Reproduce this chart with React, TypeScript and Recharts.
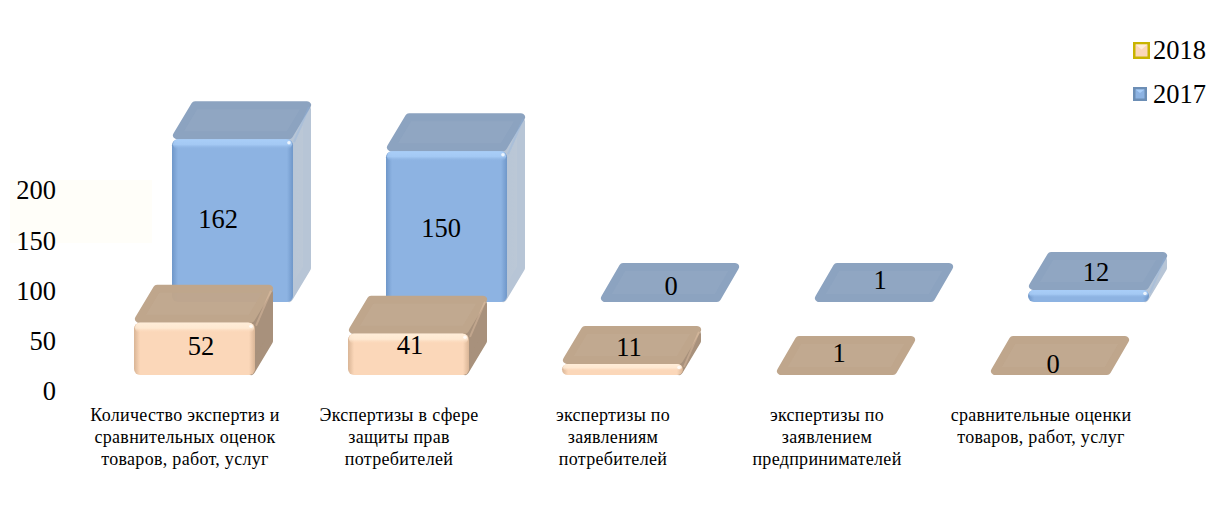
import { BarChart, Bar, XAxis, YAxis, Legend, LabelList } from "recharts";

const categories = [
  "Количество экспертиз и\nсравнительных оценок\nтоваров, работ, услуг",
  "Экспертизы в сфере\nзащиты прав\nпотребителей",
  "экспертизы по\nзаявлениям\nпотребителей",
  "экспертизы по\nзаявлением\nпредпринимателей",
  "сравнительные оценки\nтоваров, работ, услуг",
];
const values2018 = [52, 41, 11, 1, 0];
const values2017 = [162, 150, 0, 1, 12];
const yTicks = [0, 50, 100, 150, 200];

// hand placed value labels, measured from the left/bottom of each front face
const labelLeft2018 = [67, 62, 67, 63, 63];
const labelRise2018 = [29, 30, 28, 22, 11];
const labelLeft2017 = [46, 55, 71, 66, 68];
const labelRise2017 = [83, 74, 16, 22, 30];

const data = categories.map((name, i) => ({
  name,
  y2018: values2018[i],
  y2017: values2017[i],
}));

const FONT = '"Liberation Serif", "Times New Roman", serif';
const BAR_WIDTH = 121;
const DEPTH_X = 18;
const DEPTH_Y = 38;
const ROUND = 8;

const palette2018 = {
  id: "a",
  front: "#FBD7B9",
  edge: "#D9B596",
  light: "#FFEDD8",
  top: "#BFA68C",
  side: "#A8917B",
  sideFar: "#A8917B",
};
const palette2017 = {
  id: "b",
  front: "#8DB3E2",
  edge: "#6F97C9",
  light: "#A9CEF8",
  top: "#8CA3C0",
  side: "#B7C5D6",
  sideFar: "#BCC8D6",
};

// the series sit one behind the other, so each gets its own shift off the axis
const shift2018 = { dx: 9, dy: -17 };
const shift2017 = { dx: 47, dy: -90 };

function Box(props: any) {
  const { x, y, width, height, colors, shift } = props;
  const left = x + shift.dx;
  const bottom = y + height + shift.dy;
  const h = height;
  const top = bottom - h;
  const flat = h < 3;
  const depthY = flat ? 39 : DEPTH_Y;
  const right = left + width;
  const bevel = Math.min(10, h * 0.65);
  const r = ROUND / 2;
  const frontTop = flat ? bottom : top;
  return (
    <g filter="url(#soft)">
      {!flat && (
        <polygon
          points={`${right - 4},${top + 4} ${right + DEPTH_X - r},${top - depthY + ROUND} ${right + DEPTH_X - r},${bottom - depthY + r} ${right - 4},${bottom - r}`}
          fill={`url(#side-${colors.id})`}
          stroke={colors.side}
          strokeWidth={ROUND}
          strokeLinejoin="round"
        />
      )}
      <polygon
        points={`${left + r + 1},${frontTop - r} ${right - r},${frontTop - r} ${right + DEPTH_X - r},${frontTop - depthY + r} ${left + DEPTH_X + r + 1},${frontTop - depthY + r}`}
        fill={colors.top}
        fillOpacity={0.97}
        stroke={colors.top}
        strokeWidth={ROUND}
        strokeLinejoin="round"
      />
      {!flat && (
        <>
          <line
            x1={right + 1}
            y1={top + 3}
            x2={right + DEPTH_X - 2}
            y2={top - depthY + 6}
            stroke={colors.front}
            strokeOpacity={0.3}
            strokeWidth={2}
          />
          <rect x={left} y={top} width={width} height={h} rx={6} fill={`url(#front-${colors.id})`} />
          <rect x={left + 1} y={top} width={width - 2} height={bevel} rx={5} fill={`url(#bevel-${colors.id})`} />
          <circle cx={right - 4} cy={top + 3.5} r={1.8} fill="#fff" fillOpacity={0.8} />
        </>
      )}
    </g>
  );
}

function ValueLabel(props: any) {
  const { x, y, width, height, value, index, shift, lefts, rises, viewBox } = props;
  const box = viewBox ?? { x, y, width, height };
  const left = box.x + shift.dx;
  const bottom = box.y + box.height + shift.dy;
  return (
    <text
      x={left + lefts[index]}
      y={bottom - rises[index]}
      textAnchor="middle"
      dominantBaseline="central"
      fontSize={26.5}
      fontFamily={FONT}
      fill="#000"
    >
      {value}
    </text>
  );
}

function CategoryTick({ x, y, payload }: any) {
  const lines = String(payload.value).split("\n");
  return (
    <text x={x} textAnchor="middle" fontSize={18} letterSpacing={0.3} fontFamily={FONT} fill="#000">
      {lines.map((line, i) => (
        <tspan key={line} x={x} y={y + 29 + i * 22}>
          {line}
        </tspan>
      ))}
    </text>
  );
}

function Marker({ colors, size, border }: any) {
  return (
    <svg width={size} height={size} style={{ display: "block" }}>
      <rect width={size} height={size} fill={border} />
      <rect x={2.5} y={2.5} width={size - 5} height={size - 5} fill={colors.front} />
      <polygon points={`2.5,2.5 ${size - 2.5},2.5 ${size / 2},${size / 2 - 1}`} fill={colors.light} />
    </svg>
  );
}

function LegendBox() {
  return (
    <div style={{ fontFamily: FONT, fontSize: 26.5, color: "#000", lineHeight: "30px" }}>
      <div style={{ position: "absolute", left: 0, top: 0, display: "flex", alignItems: "center" }}>
        <Marker colors={palette2018} size={17} border="#C9B400" />
        <span style={{ marginLeft: 3 }}>2018</span>
      </div>
      <div style={{ position: "absolute", left: 0, top: 44, display: "flex", alignItems: "center" }}>
        <span style={{ width: 17 }}>
          <Marker colors={palette2017} size={14} border="#6C8EB5" />
        </span>
        <span style={{ marginLeft: 3 }}>2017</span>
      </div>
    </div>
  );
}

export default function App() {
  return (
    <div style={{ position: "absolute", left: 0, top: 0, width: 1207, height: 526, background: "#fff" }}>
      <div style={{ position: "absolute", left: 10, top: 180, width: 142, height: 63, background: "#FFFEF9" }} />
      <BarChart
        width={1207}
        height={526}
        data={data}
        margin={{ top: 191, right: 59, bottom: 0, left: 0 }}
        barSize={BAR_WIDTH}
        barGap={-BAR_WIDTH}
        style={{ position: "absolute", left: 0, top: 0 }}
      >
        <defs>
          <filter id="soft" x="-10%" y="-40%" width="120%" height="180%">
            <feGaussianBlur stdDeviation="0.5" />
          </filter>
          {[palette2018, palette2017].map((c) => (
            <g key={c.id}>
              <linearGradient id={`front-${c.id}`} x1="0" y1="0" x2="1" y2="0">
                <stop offset="0" stopColor={c.edge} />
                <stop offset="0.05" stopColor={c.front} />
                <stop offset="0.95" stopColor={c.front} />
                <stop offset="1" stopColor={c.edge} />
              </linearGradient>
              <linearGradient id={`bevel-${c.id}`} x1="0" y1="0" x2="0" y2="1">
                <stop offset="0" stopColor={c.light} />
                <stop offset="0.55" stopColor={c.light} stopOpacity={0.8} />
                <stop offset="1" stopColor={c.front} stopOpacity={0} />
              </linearGradient>
              <linearGradient id={`side-${c.id}`} x1="0" y1="0" x2="1" y2="0">
                <stop offset="0" stopColor={c.side} />
                <stop offset="1" stopColor={c.sideFar} />
              </linearGradient>
            </g>
          ))}
        </defs>
        <XAxis
          dataKey="name"
          height={134}
          interval={0}
          axisLine={false}
          tickLine={false}
          tickSize={0}
          tickMargin={0}
          tick={<CategoryTick />}
        />
        <YAxis
          width={78}
          domain={[0, 200]}
          ticks={yTicks}
          axisLine={false}
          tickLine={false}
          tickSize={0}
          tickMargin={22}
          tick={{ fontSize: 26.5, fontFamily: FONT, fill: "#000", dy: -1 }}
        />
        <Legend
          layout="horizontal"
          verticalAlign="middle"
          align="center"
          content={<LegendBox />}
          wrapperStyle={{ position: "absolute", left: 1133, top: 35, width: 74, height: 80 }}
        />
        <Bar
          dataKey="y2017"
          name="2017"
          isAnimationActive={false}
          shape={(p: any) => <Box {...p} colors={palette2017} shift={shift2017} />}
        >
          <LabelList
            dataKey="y2017"
            content={(p: any) => (
              <ValueLabel {...p} shift={shift2017} lefts={labelLeft2017} rises={labelRise2017} />
            )}
          />
        </Bar>
        <Bar
          dataKey="y2018"
          name="2018"
          isAnimationActive={false}
          shape={(p: any) => <Box {...p} colors={palette2018} shift={shift2018} />}
        >
          <LabelList
            dataKey="y2018"
            content={(p: any) => (
              <ValueLabel {...p} shift={shift2018} lefts={labelLeft2018} rises={labelRise2018} />
            )}
          />
        </Bar>
      </BarChart>
    </div>
  );
}
